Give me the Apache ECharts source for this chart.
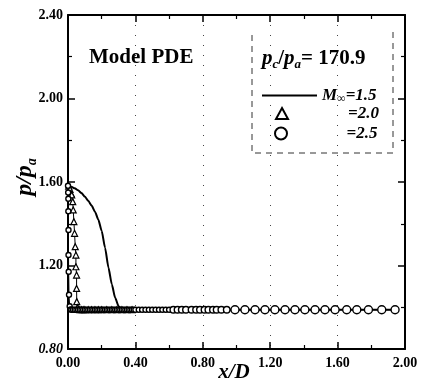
<!DOCTYPE html>
<html><head><meta charset="utf-8">
<script src="https://cdn.jsdelivr.net/npm/echarts@6/dist/echarts.min.js"></script>
<style>html,body{margin:0;padding:0;background:#fff}#c{width:422px;height:382px}</style>
</head><body><div id="c"></div>
<script>
// ---- data ----
const xTicks = ['0.00','0.40','0.80','1.20','1.60','2.00'];
const yTicks = ['0.80','1.20','1.60','2.00','2.40'];

// M = 1.5 (solid line)
const m15X = [0, 0.02, 0.04, 0.06, 0.08, 0.10, 0.12, 0.14, 0.16, 0.18, 0.20, 0.22, 0.24, 0.26, 0.28, 0.30, 0.32, 0.36, 0.6, 1.0, 1.4, 1.95];
const m15Y = [1.580, 1.577, 1.570, 1.560, 1.547, 1.530, 1.510, 1.487, 1.458, 1.420, 1.365, 1.285, 1.190, 1.110, 1.045, 1.005, 0.990, 0.988, 0.988, 0.988, 0.988, 0.988];

// M = 2.0 (triangles)
const m20X = [0.004, 0.012, 0.018, 0.022, 0.028, 0.031, 0.035, 0.039, 0.043, 0.047, 0.047, 0.051, 0.051, 0.052, 0.056, 0.062, 0.07, 0.08, 0.09, 0.10, 0.12, 0.14, 0.16, 0.18, 0.20, 0.23, 0.26, 0.29, 0.32, 0.35, 0.38];
const m20Y = [1.580, 1.565, 1.545, 1.538, 1.506, 1.466, 1.410, 1.354, 1.290, 1.250, 1.194, 1.154, 1.090, 1.027, 0.998, 0.990, 0.988, 0.988, 0.988, 0.988, 0.988, 0.988, 0.988, 0.988, 0.988, 0.988, 0.988, 0.988, 0.988, 0.988, 0.988];

// M = 2.5 (circles)
const m25X = [0, 0.001, 0.002, 0.002, 0.003, 0.003, 0.004, 0.006, 0.01, 0.015, 0.02, 0.03, 0.04, 0.05, 0.06, 0.07, 0.08, 0.09, 0.10, 0.11, 0.12, 0.13, 0.14, 0.15, 0.16, 0.17, 0.18, 0.19, 0.20, 0.21, 0.22, 0.23, 0.24, 0.25, 0.26, 0.27, 0.28, 0.29, 0.30, 0.31, 0.32, 0.33, 0.34, 0.35, 0.36, 0.37, 0.38, 0.39, 0.40, 0.42, 0.44, 0.46, 0.48, 0.50, 0.52, 0.54, 0.56, 0.58, 0.60, 0.625, 0.65, 0.675, 0.70, 0.733, 0.76, 0.783, 0.81, 0.833, 0.86, 0.882, 0.91, 0.942, 0.991, 1.050, 1.110, 1.169, 1.228, 1.288, 1.347, 1.406, 1.466, 1.525, 1.585, 1.654, 1.714, 1.783, 1.862, 1.941];
const m25Y = [1.582, 1.550, 1.520, 1.460, 1.370, 1.250, 1.170, 1.060, 1.005, 0.990, 0.988, 0.988, 0.988, 0.988, 0.988, 0.988, 0.988, 0.988, 0.988, 0.988, 0.988, 0.988, 0.988, 0.988, 0.988, 0.988, 0.988, 0.988, 0.988, 0.988, 0.988, 0.988, 0.988, 0.988, 0.988, 0.988, 0.988, 0.988, 0.988, 0.988, 0.988, 0.988, 0.988, 0.988, 0.988, 0.988, 0.988, 0.988, 0.988, 0.988, 0.988, 0.988, 0.988, 0.988, 0.988, 0.988, 0.988, 0.988, 0.988, 0.988, 0.988, 0.988, 0.988, 0.988, 0.988, 0.988, 0.988, 0.988, 0.988, 0.988, 0.988, 0.988, 0.988, 0.988, 0.988, 0.988, 0.988, 0.988, 0.988, 0.988, 0.988, 0.988, 0.988, 0.988, 0.988, 0.988, 0.988, 0.988];

const seriesNames = ['M=1.5', 'M=2.0', 'M=2.5'];

// ---- chart ----
const FONT = '"Liberation Serif","DejaVu Serif",serif';
const zip = (xs, ys) => xs.map((x, i) => [x, ys[i]]);
const chart = echarts.init(document.getElementById('c'), null, {renderer: 'canvas'});

const axisCommon = {
  type: 'value',
  axisLine: {show: true, onZero: false, lineStyle: {color: '#000', width: 2}},
  axisTick: {show: true, inside: true, length: 7, lineStyle: {color: '#000', width: 1.5}},
  minorTick: {show: true, splitNumber: 2, length: 4, lineStyle: {color: '#000', width: 1.2}},
  splitLine: {show: false},
};
const rt = (size, italic, extra) => Object.assign({fontFamily: FONT, fontStyle: italic ? 'italic' : 'normal', fontWeight: 'bold', fontSize: size, color: '#000'}, extra || {});

const option = {
  animation: false,
  backgroundColor: '#fff',
  grid: {left: 68, right: 17, top: 15, bottom: 33, containLabel: false, outerBoundsMode: 'none'},
  title: [
    {text: 'Model PDE', left: 89, top: 47, padding: 0,
     textStyle: rt(21, false)},
    {text: '{i|p}{s|c}{n|/}{i|p}{s|a}{n|= 170.9}', left: 262, top: 47, padding: 0,
     textStyle: {fontFamily: FONT, color: '#000',
       rich: {
         i: rt(21, true, {lineHeight: 24}),
         n: rt(21, false, {lineHeight: 24}),
         s: rt(13, true, {lineHeight: 12, verticalAlign: 'bottom'})
       }}}
  ],
  legend: [
    {data: [{name: seriesNames[0], icon: 'rect'}], left: 262, top: 87, padding: 0, itemWidth: 55, itemHeight: 2, symbolKeepAspect: false,
     formatter: () => '{i|M}{s|∞}{n|=1.5}',
     textStyle: {rich: {
       i: rt(17, true, {lineHeight: 18}),
       n: rt(17, true, {lineHeight: 18}),
       s: rt(12, true, {lineHeight: 10, verticalAlign: 'bottom'})}}},
    {data: [{name: seriesNames[1], icon: 'triangle'}], left: 275, top: 105, padding: 0, itemWidth: 12, itemHeight: 11,
     formatter: () => '{n|=2.0}',
     textStyle: {rich: {n: rt(17, true, {width: 86, align: 'right'})}}},
    {data: [{name: seriesNames[2], icon: 'circle'}], left: 274, top: 125, padding: 0, itemWidth: 13, itemHeight: 12,
     formatter: () => '{n|=2.5}',
     textStyle: {rich: {n: rt(17, true, {width: 85, align: 'right'})}}}
  ],
  xAxis: [
    Object.assign({}, axisCommon, {
      min: 0, max: 2, interval: 0.4, position: 'bottom',
      axisLabel: {show: true, margin: 7, fontFamily: FONT, fontWeight: 'bold', fontSize: 14, color: '#000',
        formatter: v => xTicks[Math.round(v / 0.4)]},
      splitLine: {show: true, lineStyle: {color: '#444', width: 1, type: [1, 9]}},
      name: '{i|x/D}', nameLocation: 'middle', nameGap: 13, nameMoveOverlap: false,
      nameTextStyle: {padding: [0, 5, 0, 0], rich: {i: rt(21, true)}}
    }),
    Object.assign({}, axisCommon, {
      min: 0, max: 2, interval: 0.4, position: 'top', axisLabel: {show: false}
    })
  ],
  yAxis: [
    Object.assign({}, axisCommon, {
      min: 0.8, max: 2.4, interval: 0.4, position: 'left',
      axisLabel: {show: true, margin: 5, fontFamily: FONT, fontWeight: 'bold', fontSize: 14, color: '#000',
        formatter: v => { const t = yTicks[Math.round((v - 0.8) / 0.4)]; return t === '0.80' ? '{it|' + t + '}' : t; },
        rich: {it: rt(14, true)}},
      name: '{i|p/p}{s|a}', nameLocation: 'middle', nameGap: 29, nameRotate: 90, nameMoveOverlap: false,
      nameTextStyle: {padding: [0, 0, 0, 10], rich: {
        i: rt(24, true, {lineHeight: 28}),
        s: rt(14, true, {lineHeight: 12, verticalAlign: 'bottom'})}}
    }),
    Object.assign({}, axisCommon, {
      min: 0.8, max: 2.4, interval: 0.4, position: 'right', axisLabel: {show: false}
    })
  ],
  series: [
    {name: seriesNames[0], type: 'line', xAxisIndex: 0, yAxisIndex: 0, data: zip(m15X, m15Y),
     smooth: 0.2, smoothMonotone: 'x', showSymbol: false, symbol: 'none', z: 3,
     lineStyle: {color: '#000', width: 2}, itemStyle: {color: '#000'}},
    {name: seriesNames[1], type: 'line', xAxisIndex: 0, yAxisIndex: 0, data: zip(m20X, m20Y),
     symbol: 'triangle', symbolSize: 6, showSymbol: true, z: 4,
     lineStyle: {color: '#000', width: 1}, itemStyle: {color: '#fff', borderColor: '#000', borderWidth: 1.2}},
    {name: seriesNames[2], type: 'line', xAxisIndex: 0, yAxisIndex: 0, data: zip(m25X, m25Y),
     symbol: 'circle', symbolSize: v => (v[0] < 0.62 ? 5 : (v[0] < 0.95 ? 6.5 : 8)), showSymbol: true, z: 5,
     lineStyle: {color: '#000', width: 1}, itemStyle: {color: '#fff', borderColor: '#000', borderWidth: 1.4}}
  ],
  graphic: [
    {type: 'polyline', silent: true, z: 1,
     shape: {points: [[252, 35], [252, 153], [393, 153], [393, 28]]},
     style: {stroke: '#333', lineWidth: 1, fill: null, lineDash: [6, 5]}}
  ]
};
chart.setOption(option);
</script>
</body></html>
